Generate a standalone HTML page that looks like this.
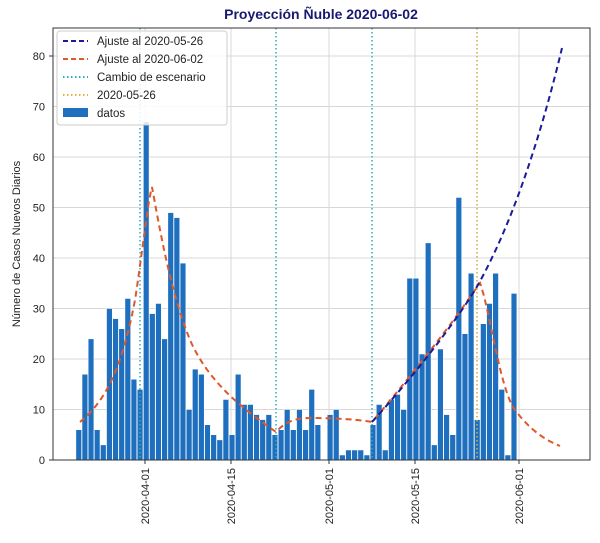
<!DOCTYPE html>
<html><head><meta charset="utf-8"><style>
body{margin:0;background:#fff;}
svg{display:block;font-family:"Liberation Sans","DejaVu Sans",sans-serif;}
</style></head><body>
<svg width="600" height="543" viewBox="0 0 600 543" xmlns="http://www.w3.org/2000/svg">
<rect width="600" height="543" fill="#fff"/>
<text x="321" y="19" text-anchor="middle" font-size="14" font-weight="bold" fill="#191970">Proyección Ñuble 2020-06-02</text>
<g stroke="#d8d8d8" stroke-width="1">
<line x1="145" y1="28" x2="145" y2="460"/><line x1="231" y1="28" x2="231" y2="460"/><line x1="329" y1="28" x2="329" y2="460"/><line x1="415" y1="28" x2="415" y2="460"/><line x1="519" y1="28" x2="519" y2="460"/>
<line x1="53" y1="56" x2="590" y2="56"/><line x1="53" y1="106.5" x2="590" y2="106.5"/><line x1="53" y1="157" x2="590" y2="157"/><line x1="53" y1="207.5" x2="590" y2="207.5"/><line x1="53" y1="258" x2="590" y2="258"/><line x1="53" y1="308.5" x2="590" y2="308.5"/><line x1="53" y1="359" x2="590" y2="359"/><line x1="53" y1="409.5" x2="590" y2="409.5"/>
</g>
<g transform="translate(0,460) scale(1,-5.05)" fill="#1f6fbf" stroke="#fff" stroke-width="0.6">
<rect vector-effect="non-scaling-stroke" x="75.87" y="0" width="5.8" height="6"/>
<rect vector-effect="non-scaling-stroke" x="82.00" y="0" width="5.8" height="17"/>
<rect vector-effect="non-scaling-stroke" x="88.13" y="0" width="5.8" height="24"/>
<rect vector-effect="non-scaling-stroke" x="94.26" y="0" width="5.8" height="6"/>
<rect vector-effect="non-scaling-stroke" x="100.39" y="0" width="5.8" height="3"/>
<rect vector-effect="non-scaling-stroke" x="106.52" y="0" width="5.8" height="30"/>
<rect vector-effect="non-scaling-stroke" x="112.65" y="0" width="5.8" height="28"/>
<rect vector-effect="non-scaling-stroke" x="118.78" y="0" width="5.8" height="26"/>
<rect vector-effect="non-scaling-stroke" x="124.91" y="0" width="5.8" height="32"/>
<rect vector-effect="non-scaling-stroke" x="131.04" y="0" width="5.8" height="16"/>
<rect vector-effect="non-scaling-stroke" x="137.17" y="0" width="5.8" height="14"/>
<rect vector-effect="non-scaling-stroke" x="143.30" y="0" width="5.8" height="67"/>
<rect vector-effect="non-scaling-stroke" x="149.43" y="0" width="5.8" height="29"/>
<rect vector-effect="non-scaling-stroke" x="155.56" y="0" width="5.8" height="31"/>
<rect vector-effect="non-scaling-stroke" x="161.69" y="0" width="5.8" height="24"/>
<rect vector-effect="non-scaling-stroke" x="167.82" y="0" width="5.8" height="49"/>
<rect vector-effect="non-scaling-stroke" x="173.95" y="0" width="5.8" height="48"/>
<rect vector-effect="non-scaling-stroke" x="180.08" y="0" width="5.8" height="39"/>
<rect vector-effect="non-scaling-stroke" x="186.21" y="0" width="5.8" height="10"/>
<rect vector-effect="non-scaling-stroke" x="192.34" y="0" width="5.8" height="18"/>
<rect vector-effect="non-scaling-stroke" x="198.47" y="0" width="5.8" height="17"/>
<rect vector-effect="non-scaling-stroke" x="204.60" y="0" width="5.8" height="7"/>
<rect vector-effect="non-scaling-stroke" x="210.73" y="0" width="5.8" height="5"/>
<rect vector-effect="non-scaling-stroke" x="216.86" y="0" width="5.8" height="4"/>
<rect vector-effect="non-scaling-stroke" x="222.99" y="0" width="5.8" height="12"/>
<rect vector-effect="non-scaling-stroke" x="229.12" y="0" width="5.8" height="5"/>
<rect vector-effect="non-scaling-stroke" x="235.25" y="0" width="5.8" height="17"/>
<rect vector-effect="non-scaling-stroke" x="241.38" y="0" width="5.8" height="11"/>
<rect vector-effect="non-scaling-stroke" x="247.51" y="0" width="5.8" height="11"/>
<rect vector-effect="non-scaling-stroke" x="253.64" y="0" width="5.8" height="9"/>
<rect vector-effect="non-scaling-stroke" x="259.77" y="0" width="5.8" height="8"/>
<rect vector-effect="non-scaling-stroke" x="265.90" y="0" width="5.8" height="9"/>
<rect vector-effect="non-scaling-stroke" x="272.03" y="0" width="5.8" height="5"/>
<rect vector-effect="non-scaling-stroke" x="278.16" y="0" width="5.8" height="6"/>
<rect vector-effect="non-scaling-stroke" x="284.29" y="0" width="5.8" height="10"/>
<rect vector-effect="non-scaling-stroke" x="290.42" y="0" width="5.8" height="6"/>
<rect vector-effect="non-scaling-stroke" x="296.55" y="0" width="5.8" height="10"/>
<rect vector-effect="non-scaling-stroke" x="302.68" y="0" width="5.8" height="6"/>
<rect vector-effect="non-scaling-stroke" x="308.81" y="0" width="5.8" height="14"/>
<rect vector-effect="non-scaling-stroke" x="314.94" y="0" width="5.8" height="7"/>
<rect vector-effect="non-scaling-stroke" x="327.20" y="0" width="5.8" height="9"/>
<rect vector-effect="non-scaling-stroke" x="333.33" y="0" width="5.8" height="10"/>
<rect vector-effect="non-scaling-stroke" x="339.46" y="0" width="5.8" height="1"/>
<rect vector-effect="non-scaling-stroke" x="345.59" y="0" width="5.8" height="2"/>
<rect vector-effect="non-scaling-stroke" x="351.72" y="0" width="5.8" height="2"/>
<rect vector-effect="non-scaling-stroke" x="357.85" y="0" width="5.8" height="2"/>
<rect vector-effect="non-scaling-stroke" x="363.98" y="0" width="5.8" height="1"/>
<rect vector-effect="non-scaling-stroke" x="370.11" y="0" width="5.8" height="7"/>
<rect vector-effect="non-scaling-stroke" x="376.24" y="0" width="5.8" height="11"/>
<rect vector-effect="non-scaling-stroke" x="382.37" y="0" width="5.8" height="2"/>
<rect vector-effect="non-scaling-stroke" x="388.50" y="0" width="5.8" height="12"/>
<rect vector-effect="non-scaling-stroke" x="394.63" y="0" width="5.8" height="13"/>
<rect vector-effect="non-scaling-stroke" x="400.76" y="0" width="5.8" height="10"/>
<rect vector-effect="non-scaling-stroke" x="406.89" y="0" width="5.8" height="36"/>
<rect vector-effect="non-scaling-stroke" x="413.02" y="0" width="5.8" height="36"/>
<rect vector-effect="non-scaling-stroke" x="419.15" y="0" width="5.8" height="21"/>
<rect vector-effect="non-scaling-stroke" x="425.28" y="0" width="5.8" height="43"/>
<rect vector-effect="non-scaling-stroke" x="431.41" y="0" width="5.8" height="3"/>
<rect vector-effect="non-scaling-stroke" x="437.54" y="0" width="5.8" height="22"/>
<rect vector-effect="non-scaling-stroke" x="443.67" y="0" width="5.8" height="9"/>
<rect vector-effect="non-scaling-stroke" x="449.80" y="0" width="5.8" height="5"/>
<rect vector-effect="non-scaling-stroke" x="455.93" y="0" width="5.8" height="52"/>
<rect vector-effect="non-scaling-stroke" x="462.06" y="0" width="5.8" height="25"/>
<rect vector-effect="non-scaling-stroke" x="468.19" y="0" width="5.8" height="37"/>
<rect vector-effect="non-scaling-stroke" x="474.32" y="0" width="5.8" height="8"/>
<rect vector-effect="non-scaling-stroke" x="480.45" y="0" width="5.8" height="27"/>
<rect vector-effect="non-scaling-stroke" x="486.58" y="0" width="5.8" height="31"/>
<rect vector-effect="non-scaling-stroke" x="492.71" y="0" width="5.8" height="37"/>
<rect vector-effect="non-scaling-stroke" x="498.84" y="0" width="5.8" height="14"/>
<rect vector-effect="non-scaling-stroke" x="504.97" y="0" width="5.8" height="1"/>
<rect vector-effect="non-scaling-stroke" x="511.10" y="0" width="5.8" height="33"/>
</g>
<g stroke-width="1.5" stroke-dasharray="1.5,2.5">
<line x1="140" y1="28" x2="140" y2="460" stroke="#2ab0c0"/>
<line x1="276" y1="28" x2="276" y2="460" stroke="#2ab0c0"/>
<line x1="372" y1="28" x2="372" y2="460" stroke="#2ab0c0"/>
<line x1="477" y1="28" x2="477" y2="460" stroke="#c8b040"/>
</g>
<path d="M80,422 C100,405 120,380 135,300 C142,255 148,200 152,187 C160,230 170,290 190,340 C210,385 245,410 276,432 C285,422 295,418 310,418 C340,418 360,420 372,422 C395,395 440,340 468,300 L480,283 C490,310 500,390 515,410 C530,430 545,440 560,446" fill="none" stroke="#e0582a" stroke-width="2" stroke-dasharray="6,4"/>
<path d="M372,422 C410,380 450,330 475,290 C510,230 540,140 562,48" fill="none" stroke="#1a1a9a" stroke-width="2" stroke-dasharray="6,4"/>
<rect x="53" y="28" width="537" height="432" fill="none" stroke="#333" stroke-width="1"/>
<g font-size="11" fill="#222" text-anchor="end">
<text x="45" y="464">0</text><text x="45" y="413.5">10</text><text x="45" y="363">20</text><text x="45" y="312.5">30</text><text x="45" y="262">40</text><text x="45" y="211.5">50</text><text x="45" y="161">60</text><text x="45" y="110.5">70</text><text x="45" y="60">80</text>
</g>
<g stroke="#333"><line x1="49" y1="460" x2="53" y2="460"/><line x1="49" y1="56" x2="53" y2="56"/><line x1="145" y1="460" x2="145" y2="464"/><line x1="231" y1="460" x2="231" y2="464"/><line x1="329" y1="460" x2="329" y2="464"/><line x1="415" y1="460" x2="415" y2="464"/><line x1="519" y1="460" x2="519" y2="464"/></g>
<g font-size="11" fill="#222" text-anchor="end">
<text transform="translate(149,468) rotate(-90)">2020-04-01</text>
<text transform="translate(235,468) rotate(-90)">2020-04-15</text>
<text transform="translate(333,468) rotate(-90)">2020-05-01</text>
<text transform="translate(419,468) rotate(-90)">2020-05-15</text>
<text transform="translate(523,468) rotate(-90)">2020-06-01</text>
</g>
<text transform="translate(20,244) rotate(-90)" font-size="11" fill="#222" text-anchor="middle">Número de Casos Nuevos Diarios</text>
<rect x="57" y="31" width="170" height="94" rx="3" fill="#fff" fill-opacity="0.85" stroke="#ccc"/>
<g font-size="11.5" fill="#222">
<line x1="63" y1="41" x2="88" y2="41" stroke="#1a1a9a" stroke-width="2" stroke-dasharray="5,3"/><text x="97" y="45">Ajuste al 2020-05-26</text>
<line x1="63" y1="59" x2="88" y2="59" stroke="#e0582a" stroke-width="2" stroke-dasharray="5,3"/><text x="97" y="63">Ajuste al 2020-06-02</text>
<line x1="63" y1="77" x2="88" y2="77" stroke="#2ab0c0" stroke-width="2" stroke-dasharray="1.5,2.5"/><text x="97" y="81">Cambio de escenario</text>
<line x1="63" y1="95" x2="88" y2="95" stroke="#e8b040" stroke-width="2" stroke-dasharray="1.5,2.5"/><text x="97" y="99">2020-05-26</text>
<rect x="63" y="108" width="25" height="9" fill="#1f6fbf"/><text x="97" y="117">datos</text>
</g>
</svg>
</body></html>
